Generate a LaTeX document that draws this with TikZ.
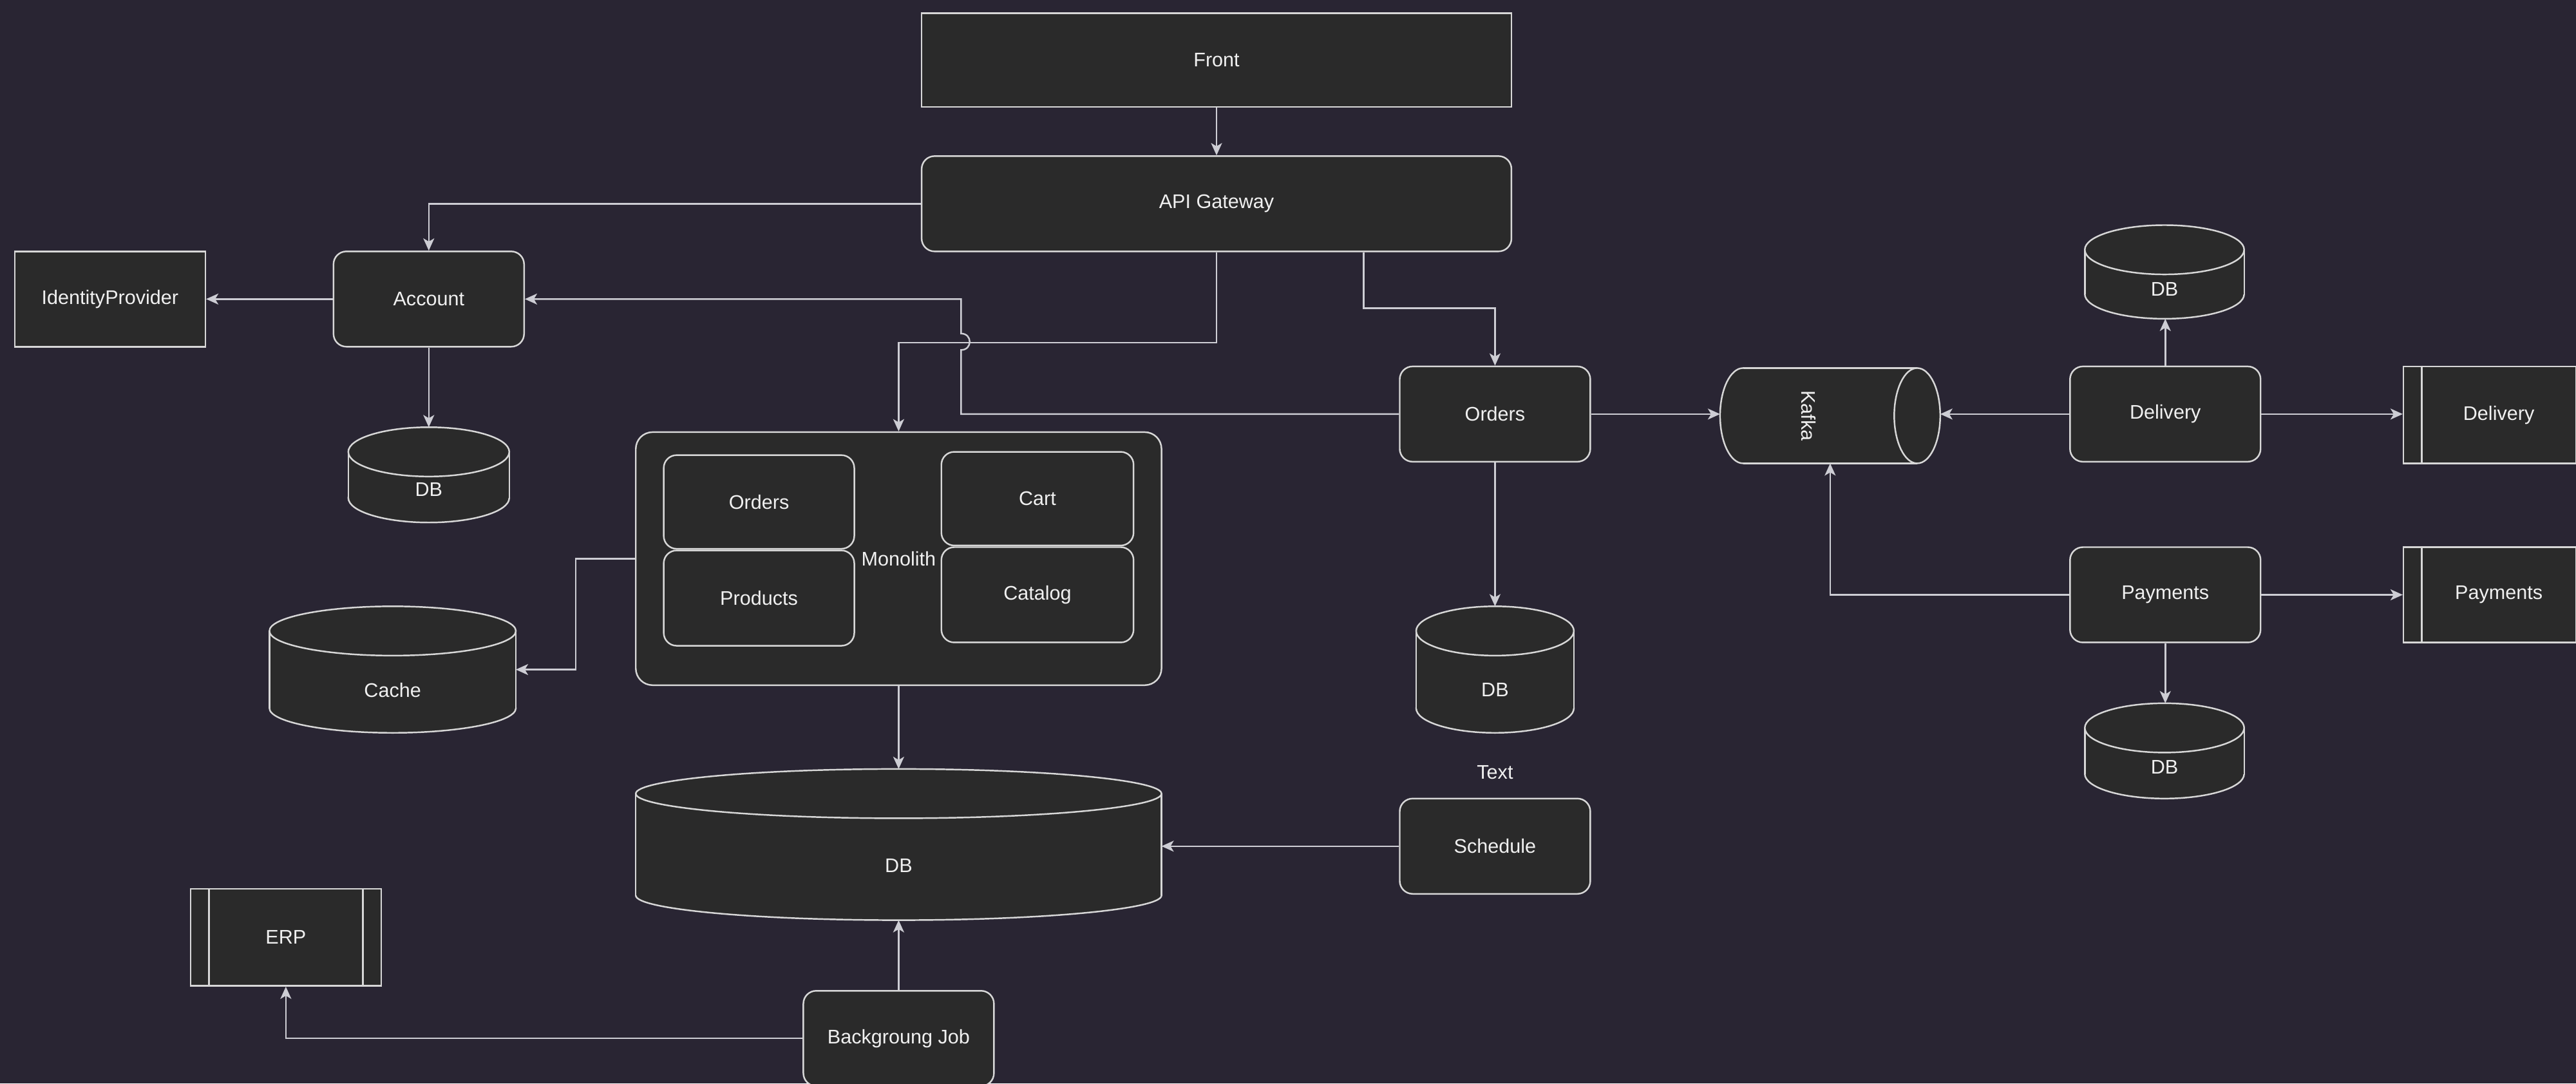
\documentclass[tikz,border=0pt]{standalone}
\usepackage{fontspec}
\setmainfont{Liberation Sans}
\usetikzlibrary{arrows.meta,calc}
\definecolor{bgc}{RGB}{41,37,51}
\definecolor{boxfill}{RGB}{42,42,42}
\definecolor{edge}{RGB}{215,215,215}
\definecolor{wire}{RGB}{205,205,212}
\definecolor{txt}{RGB}{240,240,240}
\tikzset{
  lbl/.style={text=txt, font=\fontsize{8.7}{10}\selectfont, inner sep=0pt},
  sz/.style 2 args={minimum width=#1*0.0255cm, minimum height=#2*0.0255cm},
  plainbox/.style={draw=edge, fill=boxfill, line width=0.7pt, inner sep=0pt, text=txt, font=\fontsize{8.7}{10}\selectfont},
  svc/.style={plainbox, rounded corners=0.2cm},
  ghost/.style={inner sep=0pt, outer sep=0pt},
  cylst/.style={draw=edge, fill=boxfill, line width=0.7pt},
  cylline/.style={draw=edge, line width=0.7pt},
  innerln/.style={draw=edge, line width=0.7pt},
  wire/.style={draw=wire, line width=0.7pt, -{Stealth[length=1.9mm,width=1.7mm,inset=0.5mm]}},
}
\newcommand\mkcyl[7]{%
  \filldraw[cylst] ({(#2+#4)/2},{#5-15}) ellipse[x radius={(#4-#2)/2}, y radius=15];
  \fill[boxfill] (#2,{#3+15}) rectangle (#4,{#5-15});
  \draw[cylline] (#2,{#3+15}) -- (#2,{#5-15}) (#4,{#3+15}) -- (#4,{#5-15});
  \filldraw[cylst] ({(#2+#4)/2},{#3+15}) ellipse[x radius={(#4-#2)/2}, y radius=15];
  \node[ghost, minimum width={(#4-#2)*0.0255cm}, minimum height={(#5-#3)*0.0255cm}] (#1) at ({(#2+#4)/2},{(#3+#5)/2}) {};
  \node[lbl] (#1-t) at ({(#2+#4)/2},#6) {#7};
}
\begin{document}
\begin{tikzpicture}[x=0.0255cm,y=-0.0255cm]
\clip (0,0) rectangle (1568,659.35);
\fill[bgc] (0,0) rectangle (1568,659.35);

% top
\node[plainbox, sz={359}{57}] (front) at (740.5,36.5) {Front};
\node[svc, sz={359}{58}] (api) at (740.5,124) {API Gateway};

% left
\node[plainbox, sz={116}{58}] (idp) at (67,182) {IdentityProvider};
\node[svc, sz={116}{58}] (acc) at (261,182) {Account};
\mkcyl{accdb}{212}{260}{310}{318}{298}{DB}

% monolith
\node[plainbox, rounded corners=0.26cm, sz={320}{154}] (mono) at (547,340) {Monolith};
\node[svc, sz={116}{57}] (mord) at (462,305.5) {Orders};
\node[svc, sz={116}{58}] (mprod) at (462,364) {Products};
\node[svc, sz={117}{57}] (mcart) at (631.5,303.5) {Cart};
\node[svc, sz={117}{58}] (mcat) at (631.5,362) {Catalog};

\mkcyl{cache}{164}{369}{314}{446}{420}{Cache}
\mkcyl{bigdb}{387}{468}{707}{560}{527}{DB}

% middle
\node[svc, sz={116}{58}] (orders) at (910,252) {Orders};
\mkcyl{odb}{862}{369}{958}{446}{420}{DB}
\node[lbl] (textlbl) at (910,470) {Text};
\node[svc, sz={116}{58}] (sched) at (910,515) {Schedule};

% bottom
\node[svc, sz={116}{58}] (bg) at (547,632) {Backgroung Job};
\node[plainbox, sz={116}{59}] (erp) at (174,570.5) {ERP};
\draw[innerln] ($(erp.north west)+(11.6,0)$) -- ($(erp.south west)+(11.6,0)$);
\draw[innerln] ($(erp.north east)+(-11.6,0)$) -- ($(erp.south east)+(-11.6,0)$);

% kafka
\filldraw[cylst] (1061,253) ellipse[x radius=14, y radius=29];
\fill[boxfill] (1061,224) rectangle (1167,282);
\draw[cylline] (1061,224) -- (1167,224) (1061,282) -- (1167,282);
\filldraw[cylst] (1167,253) ellipse[x radius=14, y radius=29];
\node[ghost, sz={134}{58}] (kafka) at (1114,253) {};
\node[lbl, rotate=-90] (kafka-t) at (1101,253) {Kafka};

% right
\node[svc, sz={116}{58}] (deliv) at (1318,252) {Delivery};
\mkcyl{ddb}{1269}{137}{1366}{194}{176}{DB}
\node[plainbox, sz={116}{59}] (dext) at (1521,252.5) {Delivery};
\draw[innerln] ($(dext.north west)+(11.6,0)$) -- ($(dext.south west)+(11.6,0)$);
\draw[innerln] ($(dext.north east)+(-11.6,0)$) -- ($(dext.south east)+(-11.6,0)$);
\node[svc, sz={116}{58}] (pay) at (1318,362) {Payments};
\mkcyl{pdb}{1269}{428}{1366}{486}{467}{DB}
\node[plainbox, sz={116}{58}] (pext) at (1521,362) {Payments};
\draw[innerln] ($(pext.north west)+(11.6,0)$) -- ($(pext.south west)+(11.6,0)$);
\draw[innerln] ($(pext.north east)+(-11.6,0)$) -- ($(pext.south east)+(-11.6,0)$);

% connectors
\draw[wire] (front.south) -- (api.north);
\draw[wire] (api.west) -| (acc.north);
\draw[wire] (acc.west) -- (idp.east);
\draw[wire] (acc.south) -- (accdb.north);
\draw[wire] (api.south) -- ++(0,55) -| (mono.north);
\draw[wire] ($(api.south)+(89.5,0)$) -- ++(0,34) -| (orders.north);
\coordinate (hopA) at (585,213);
\coordinate (hopB) at (585,203);
\draw[wire] (orders.west) -| (hopA) .. controls ($(hopA)+(7,0)$) and ($(hopB)+(7,0)$) .. (hopB) |- (acc.east);
\draw[wire] (mono.west) -- ++(-36,0) |- (cache.east);
\draw[wire] (mono.south) -- (bigdb.north);
\draw[wire] (sched.west) -- (sched.west -| bigdb.east);
\draw[wire] (bg.north) -- (bigdb.south);
\draw[wire] (bg.west) -| (erp.south);
\draw[wire] (orders.south) -- (orders.south |- odb.north);
\draw[wire] (orders.east) -- (orders.east -| kafka.west);
\draw[wire] (deliv.west) -- (deliv.west -| kafka.east);
\draw[wire] (deliv.north) -- (deliv.north |- ddb.south);
\draw[wire] (deliv.east) -- (deliv.east -| dext.west);
\draw[wire] (pay.west) -| (kafka.south);
\draw[wire] (pay.east) -- (pay.east -| pext.west);
\draw[wire] (pay.south) -- (pay.south |- pdb.north);
\end{tikzpicture}
\end{document}
